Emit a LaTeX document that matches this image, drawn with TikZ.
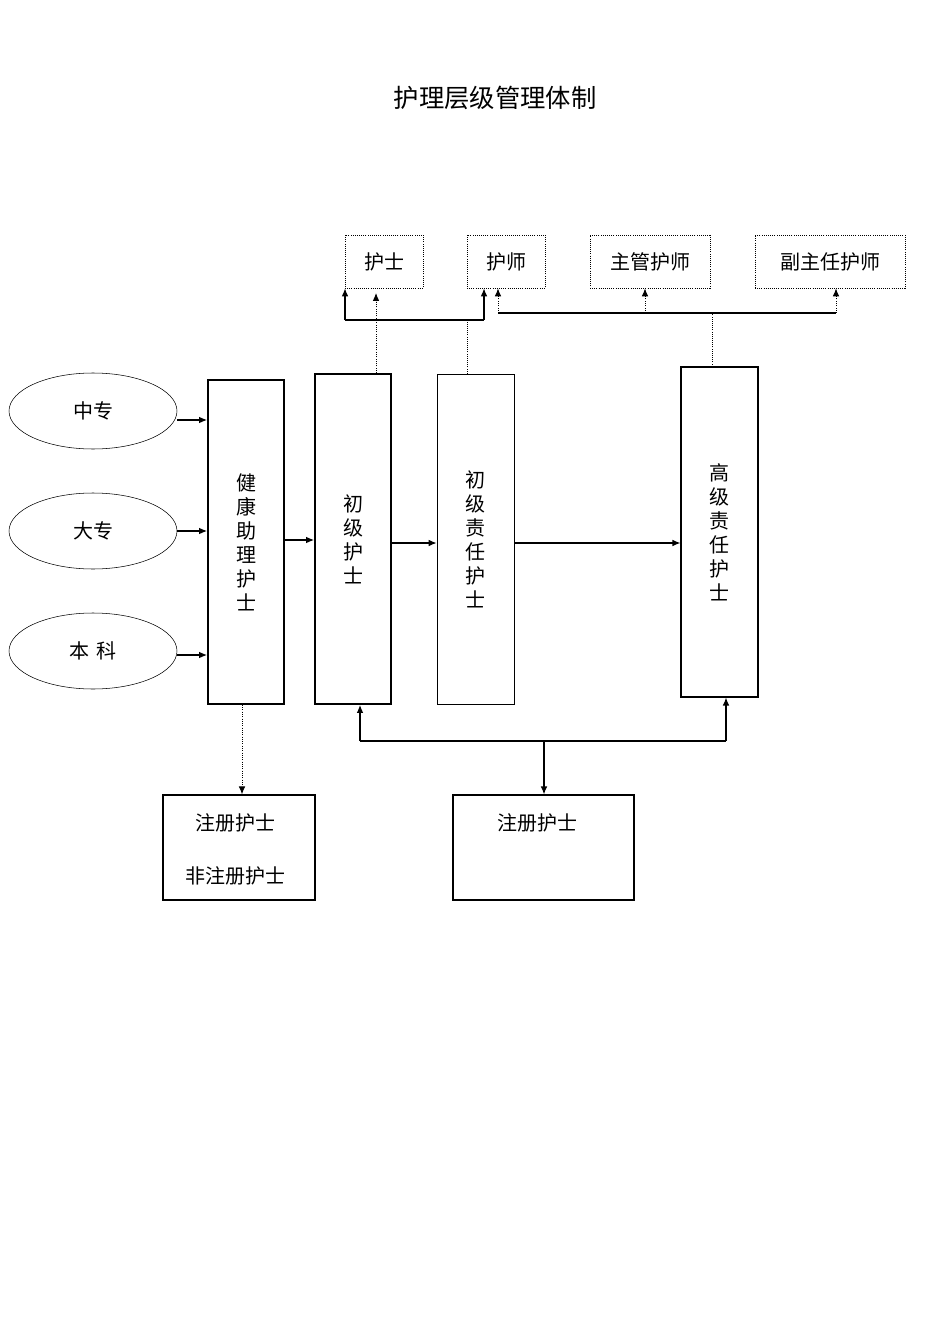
\documentclass[tikz,border=0pt]{standalone}
\usepackage{fontspec}
\newfontfamily\cjk{Noto Sans CJK SC}
\usetikzlibrary{arrows.meta,calc,shapes.geometric}
\begin{document}
\begin{tikzpicture}[x=0.75pt,y=-0.75pt,
  txt/.style={font=\cjk\fontsize{15}{18}\selectfont},
  dbox/.style={draw,densely dotted,line width=0.6pt,minimum width=#1,minimum height=39.75pt,inner sep=0pt,txt},
  vbox/.style={draw,inner sep=0pt,align=center,txt,font=\cjk\fontsize{15}{18}\selectfont},
  ell/.style={draw,ellipse,minimum width=126pt,minimum height=57pt,inner sep=0pt,txt},
  arr/.style={-{Latex[length=6pt,width=5pt]},line width=0.9pt},
  darr/.style={-{Latex[length=6pt,width=5pt]},densely dotted,line width=0.7pt}]
\useasboundingbox (0,0) rectangle (950,1344);
\node[font=\cjk\fontsize{19}{22}\selectfont] (title) at (495,98) {护理层级管理体制};
% top boxes
\node[dbox=58.5pt] (hs) at (384,261.5) {护士};
\node[dbox=58.5pt] (hsh) at (506,261.5) {护师};
\node[dbox=90pt] (zg) at (650,261.5) {主管护师};
\node[dbox=112.5pt] (fz) at (830,261.5) {副主任护师};
% main boxes
\node[vbox,line width=1.4pt,minimum width=57pt,minimum height=243pt] (jk) at (246,542) {健\\康\\助\\理\\护\\士};
\node[vbox,line width=1.4pt,minimum width=57pt,minimum height=247.5pt] (cj) at (353,539) {初\\级\\护\\士};
\node[vbox,line width=0.6pt,minimum width=57.75pt,minimum height=247.5pt] (cz) at (475.5,539) {初\\级\\责\\任\\护\\士};
\node[vbox,line width=0.8pt,minimum width=57.75pt,minimum height=247.5pt] (gz) at (719.5,532) {高\\级\\责\\任\\护\\士};
% ellipses
\node[ell] (zz) at (93,411) {中专};
\node[ell] (dz) at (93,531) {大专};
\node[ell] (bk) at (93,651) {本\,\,科};
% bottom boxes
\node[draw,line width=0.9pt,minimum width=114pt,minimum height=78.75pt,inner sep=0pt] (lb) at (239,847.5) {};
\node[txt] (lb1) at (235,823) {注册护士};
\node[txt] (lb2) at (235,876) {非注册护士};
\node[draw,line width=0.9pt,minimum width=135.75pt,minimum height=78.75pt,inner sep=0pt] (rb) at (543.5,847.5) {};
\node[txt] (rb1) at (537,823) {注册护士};
% ellipse arrows
\draw[arr] (zz.east|-0,420) -- (jk.west|-0,420);
\draw[arr] (dz.east) -- (jk.west|-dz.east);
\draw[arr] (bk.east|-0,655) -- (jk.west|-0,655);
\draw[arr] (jk.east|-0,540) -- (cj.west|-0,540);
\draw[arr] (cj.east|-0,543) -- (cz.west|-0,543);
\draw[arr] (cz.east|-0,543) -- (gz.west|-0,543);
% top connectors
\draw[darr] (cj.north-|376,0) -- (376,293);
\draw[line width=0.9pt] (345,320) -- (484,320);
\draw[arr] (345,320) -- (hs.south west-|345,0);
\draw[arr] (484,320) -- (hsh.south-|484,0);
\draw[densely dotted,line width=0.6pt] (cz.north-|467,0) -- (467,320);
\draw[line width=0.9pt] (498,313) -- (836,313);
\draw[darr] (498,313) -- (hsh.south-|498,0);
\draw[darr] (645,313) -- (zg.south-|645,0);
\draw[darr] (836,313) -- (fz.south-|836,0);
\draw[densely dotted,line width=0.6pt] (gz.north-|712,0) -- (712,313);
% bottom connectors
\draw[darr] (jk.south-|242,0) -- (lb.north-|242,0);
\draw[line width=0.9pt] (360,741) -- (726,741);
\draw[arr] (360,741) -- (cj.south-|360,0);
\draw[arr] (726,741) -- (gz.south-|726,0);
\draw[arr] (544,741) -- (rb.north-|544,0);
\end{tikzpicture}
\end{document}
